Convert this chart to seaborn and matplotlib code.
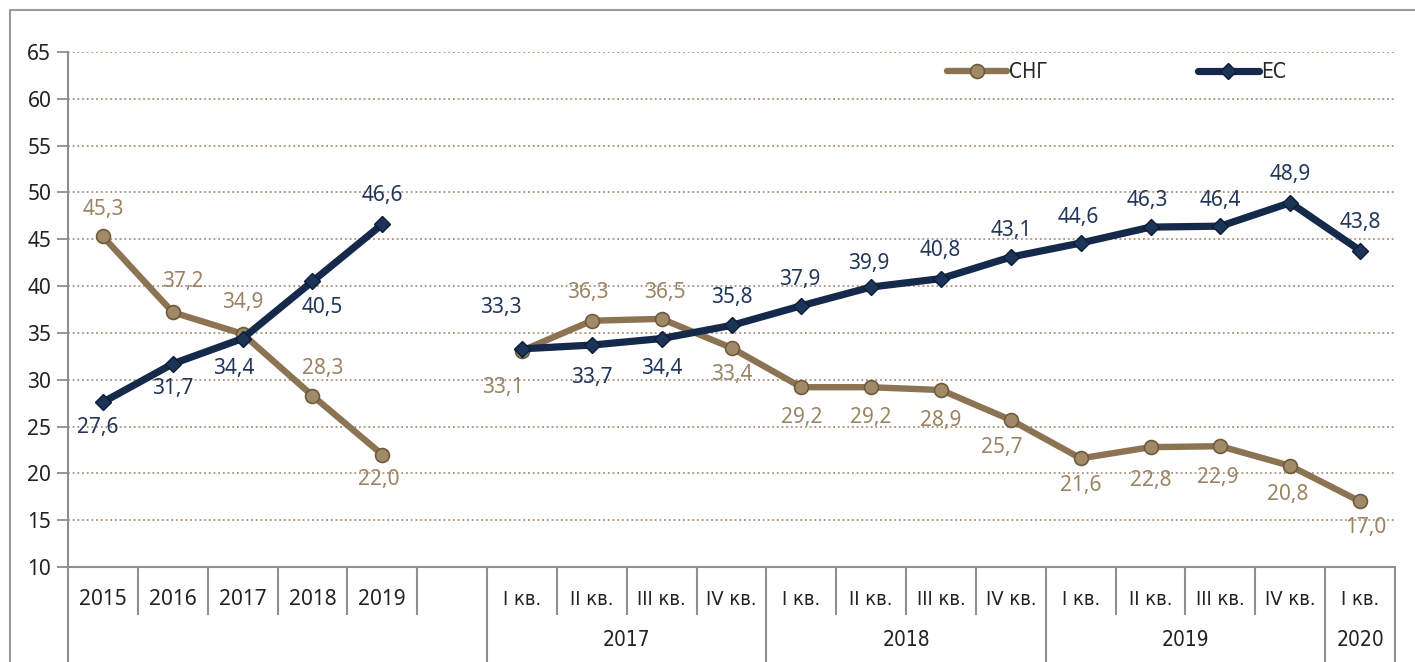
import pandas as pd
import seaborn as sns
import matplotlib.pyplot as plt
from matplotlib import font_manager
from matplotlib.lines import Line2D

# категории по оси X: 5 лет, пустая ячейка, 13 кварталов
year_labels = ['2015', '2016', '2017', '2018', '2019']
quarter_labels = ['I кв.', 'II кв.', 'III кв.', 'IV кв.',
                  'I кв.', 'II кв.', 'III кв.', 'IV кв.',
                  'I кв.', 'II кв.', 'III кв.', 'IV кв.',
                  'I кв.']
group_labels = ['2017', '2018', '2019', '2020']
group_sizes = [4, 4, 4, 1]

cis_years = [45.3, 37.2, 34.9, 28.3, 22.0]
eu_years = [27.6, 31.7, 34.4, 40.5, 46.6]
cis_quarters = [33.1, 36.3, 36.5, 33.4, 29.2, 29.2, 28.9, 25.7, 21.6, 22.8, 22.9, 20.8, 17.0]
eu_quarters = [33.3, 33.7, 34.4, 35.8, 37.9, 39.9, 40.8, 43.1, 44.6, 46.3, 46.4, 48.9, 43.8]

# смещения подписей (в пикселях) относительно точек
cis_offsets = [(0, 27), (10, 31), (0, 31), (10, 27), (-4, -25),
               (-19, -37), (-4, 28), (3, 26), (0, -27), (0, -30), (0, -30), (0, -30),
               (-9, -28), (0, -27), (0, -33), (-3, -31), (-3, -29), (6, -26)]
eu_offsets = [(-5, -25), (0, -25), (-9, -30), (10, -26), (0, 29),
              (-21, 41), (0, -32), (0, -30), (0, 28), (-2, 26), (-2, 24), (-1, 28),
              (0, 27), (-2, 26), (-3, 27), (0, 26), (0, 28), (0, 28)]

categories = year_labels + [''] + quarter_labels
year_pos = list(range(len(year_labels)))
quarter_pos = list(range(len(year_labels) + 1, len(categories)))

df = pd.concat([
    pd.DataFrame({'series': 'СНГ', 'part': 'years', 'pos': year_pos, 'value': cis_years}),
    pd.DataFrame({'series': 'СНГ', 'part': 'quarters', 'pos': quarter_pos, 'value': cis_quarters}),
    pd.DataFrame({'series': 'ЕС', 'part': 'years', 'pos': year_pos, 'value': eu_years}),
    pd.DataFrame({'series': 'ЕС', 'part': 'quarters', 'pos': quarter_pos, 'value': eu_quarters}),
], ignore_index=True)

sns.set_theme(style='white')
fonts = font_manager.fontManager.ttflist
available = {f.name for f in fonts}
main_font = 'Noto Sans' if 'Noto Sans' in available else 'DejaVu Sans'
# узкий шрифт для подписей кварталов, если найдётся
narrow_font, narrow_stretch = 'Roboto', 'normal'
for f in fonts:
    if 'Narrow' in f.name or 'Condensed' in f.name:
        narrow_font, narrow_stretch = f.name, 'normal'
        break
    if str(f.stretch) in ('condensed', 'semi-condensed', '600', '700') and f.name in ('DejaVu Sans', 'Noto Sans', 'Roboto', 'Open Sans'):
        narrow_font, narrow_stretch = f.name, f.stretch
        break
plt.rcParams['font.family'] = [main_font, 'DejaVu Sans']

cis_color = '#8c7352'
cis_text = '#9a8463'
eu_color = '#15294b'
eu_text = '#22365a'
frame_gray = '#8f8f8f'

fig = plt.figure(figsize=(14.15, 6.62), dpi=100)
ax = fig.add_axes([68 / 1415, 95 / 662, 1327 / 1415, 515 / 662])

cis_style = dict(color=cis_color, lw=4.6, marker='o', ms=10,
                 mfc='#a08a68', mec='#6f5a3e', mew=1.2)
eu_style = dict(color=eu_color, lw=5.2, marker='D', ms=8,
                mfc='#1d3459', mec='#0d1c36', mew=1)

sns.lineplot(data=df[df.series == 'СНГ'], x='pos', y='value', units='part', estimator=None,
             sort=False, ax=ax, zorder=3, **cis_style)
sns.lineplot(data=df[df.series == 'ЕС'], x='pos', y='value', units='part', estimator=None,
             sort=False, ax=ax, zorder=4, **eu_style)

# подписи значений
for d, offs, col in [(df[df.series == 'СНГ'], cis_offsets, cis_text),
                     (df[df.series == 'ЕС'], eu_offsets, eu_text)]:
    for (p, v), (dx, dy) in zip(zip(d['pos'], d['value']), offs):
        ax.annotate(f'{v:.1f}'.replace('.', ','), (p, v), xytext=(dx, dy),
                    textcoords='offset pixels', ha='center', va='center',
                    fontsize=15, color=col, zorder=5)

ax.set_xlim(-0.5, len(categories) - 0.5)
ax.set_ylim(10, 65)
ax.set_yticks(range(10, 66, 5))
ax.set_xticks([])
ax.set_xlabel('')
ax.set_ylabel('')
ax.tick_params(axis='y', left=True, length=8, width=1.3, color=frame_gray,
               labelsize=15, pad=4, labelcolor='#222222')
for y in range(15, 66, 5):
    ax.axhline(y, color='#a8927a', lw=1.3, ls=(0, (1, 1.6)), zorder=1)

for side in ['top', 'right']:
    ax.spines[side].set_visible(False)
for side in ['left', 'bottom']:
    ax.spines[side].set_color(frame_gray)
    ax.spines[side].set_linewidth(1.5)

# двухуровневая ось X
tr = ax.get_xaxis_transform()
long_bounds = {-0.5, len(year_labels) + 0.5}
b = len(year_labels) + 0.5
for s in group_sizes:
    b += s
    long_bounds.add(b)
for i in range(len(categories) + 1):
    x = i - 0.5
    y_end = -0.184 if x in long_bounds else -0.093
    ax.plot([x, x], [0, y_end], transform=tr, color=frame_gray, lw=1.5,
            clip_on=False, solid_capstyle='butt')

for p, lab in enumerate(categories):
    if 'кв' in lab:
        ax.text(p, -0.064, lab, transform=tr, ha='center', va='center', fontsize=14.5,
                family=narrow_font, fontstretch=narrow_stretch, color='#222222')
    else:
        ax.text(p, -0.064, lab, transform=tr, ha='center', va='center', fontsize=15,
                family=main_font, color='#222222')

start = len(year_labels) + 1
for lab, s in zip(group_labels, group_sizes):
    ax.text(start + (s - 1) / 2, -0.142, lab, transform=tr, ha='center', va='center',
            fontsize=15, family=narrow_font, fontstretch=narrow_stretch, color='#222222')
    start += s

# легенда
handles = [Line2D([], [], **cis_style), Line2D([], [], **eu_style)]
ax.legend(handles, ['СНГ', 'ЕС'], ncol=2, frameon=False, loc='center',
          bbox_to_anchor=(0.79, 0.961), handlelength=2.9, handletextpad=0.1,
          columnspacing=7.2, prop={'family': narrow_font, 'stretch': narrow_stretch, 'size': 15})

# внешняя рамка
fig.add_artist(Line2D([10 / 1415, 10 / 1415, 1], [0, 1 - 10 / 662, 1 - 10 / 662],
                      transform=fig.transFigure, color='#9a9a9a', lw=1.5))

fig.savefig('out.png', dpi=100)
